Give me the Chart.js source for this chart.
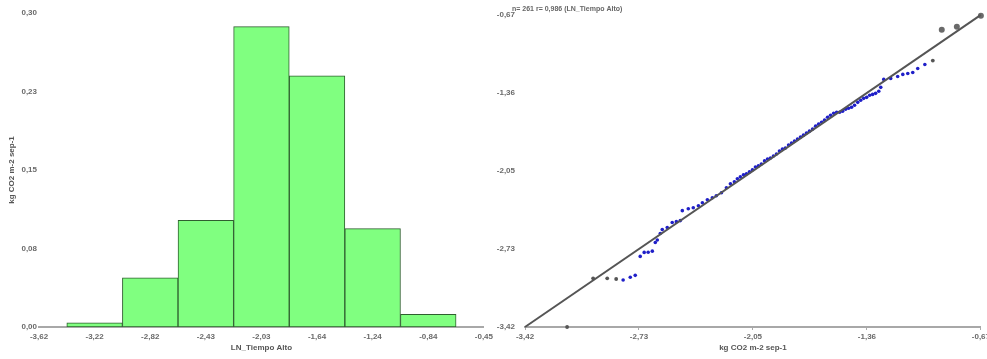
<!DOCTYPE html>
<html>
<head>
<meta charset="utf-8">
<script src="https://cdn.jsdelivr.net/npm/chart.js@4.4.1/dist/chart.umd.min.js"></script>
<style>
  html, body { margin: 0; padding: 0; background: #ffffff; }
  #wrap { position: relative; width: 987px; height: 359px; overflow: hidden; }
  #histo { position: absolute; left: 0; top: 0; }
  #qq { position: absolute; left: 490px; top: 0; }
</style>
</head>
<body>
<div id="wrap">
  <canvas id="histo" width="498" height="359"></canvas>
  <canvas id="qq" width="502" height="359"></canvas>
</div>
<script>
// ---------- Histogram data ----------
const binPositions = [1, 2, 3, 4, 5, 6, 7];
const binFrequencies = [0.004, 0.047, 0.102, 0.287, 0.240, 0.094, 0.012];
const histXTickLabels = ["-3,62", "-3,22", "-2,82", "-2,43", "-2,03", "-1,64", "-1,24", "-0,84", "-0,45"];
const histYTickLabels = ["0,00", "0,08", "0,15", "0,23", "0,30"];
const histXTitle = "LN_Tiempo Alto";
const histYTitle = "kg CO2 m-2 sep-1";

// ---------- QQ plot data ----------
const qqBlueX = [-2.828,-2.785,-2.755,-2.725,-2.701,-2.677,-2.652,-2.634,-2.622,-2.604,
  -2.592,-2.562,-2.532,-2.507,-2.483,-2.471,-2.435,-2.405,-2.374,-2.350,
  -2.320,-2.290,-2.266,-2.235,-2.205,-2.181,-2.157,-2.139,-2.121,-2.102,
  -2.084,-2.066,-2.048,-2.030,-2.012,-1.994,-1.975,-1.957,-1.939,-1.921,
  -1.903,-1.885,-1.867,-1.849,-1.830,-1.812,-1.794,-1.776,-1.758,-1.740,
  -1.722,-1.704,-1.685,-1.667,-1.649,-1.631,-1.613,-1.595,-1.577,-1.558,
  -1.540,-1.522,-1.504,-1.486,-1.468,-1.450,-1.432,-1.413,-1.395,-1.377,
  -1.359,-1.341,-1.323,-1.305,-1.286,-1.274,-1.256,-1.214,-1.172,-1.141,
  -1.111,-1.081,-1.051,-1.008];
const qqBlueY = [-3.006,-2.982,-2.965,-2.798,-2.763,-2.761,-2.752,-2.676,-2.654,-2.597,
  -2.562,-2.544,-2.500,-2.492,-2.483,-2.395,-2.378,-2.369,-2.352,-2.325,
  -2.299,-2.281,-2.264,-2.238,-2.194,-2.159,-2.141,-2.115,-2.098,-2.080,
  -2.071,-2.054,-2.036,-2.010,-2.001,-1.984,-1.957,-1.940,-1.931,-1.914,
  -1.896,-1.870,-1.852,-1.844,-1.817,-1.800,-1.782,-1.765,-1.747,-1.730,
  -1.712,-1.695,-1.677,-1.651,-1.633,-1.616,-1.598,-1.572,-1.555,-1.537,
  -1.528,-1.528,-1.520,-1.502,-1.493,-1.485,-1.467,-1.441,-1.423,-1.406,
  -1.397,-1.379,-1.371,-1.362,-1.344,-1.309,-1.239,-1.230,-1.213,-1.195,
  -1.187,-1.178,-1.143,-1.108];
const qqGrayX = [-3.166, -3.009, -2.924, -2.870, -0.960];
const qqGrayY = [-3.420, -2.991, -2.991, -2.997, -1.073];
const qqBigGrayX = [-0.906, -0.815, -0.670];
const qqBigGrayY = [-0.801, -0.775, -0.679];
const qqRefLineX = [-3.42, -0.67];
const qqRefLineY = [-3.42, -0.67];
const qqTickLabels = ["-3,42", "-2,73", "-2,05", "-1,36", "-0,67"];
const qqXTitle = "kg CO2 m-2 sep-1";
const qqTitle = "n= 261 r= 0,986 (LN_Tiempo Alto)";

const pairs = (xs, ys) => xs.map((x, i) => ({ x: x, y: ys[i] }));

const tickFont = { family: "'Liberation Sans', Arial, sans-serif", size: 8, weight: 'bold' };
const tickColor = '#6a6a6a';

// ---------- Histogram ----------
new Chart(document.getElementById('histo'), {
  type: 'bar',
  data: {
    datasets: [{
      data: pairs(binPositions, binFrequencies),
      backgroundColor: '#80ff80',
      borderColor: '#2f5f2f',
      borderWidth: 1,
      barPercentage: 1,
      categoryPercentage: 1,
      borderSkipped: false
    }]
  },
  options: {
    responsive: false,
    animation: false,
    layout: { padding: { left: 0, right: 6, top: 13, bottom: 0 } },
    plugins: { legend: { display: false }, tooltip: { enabled: false } },
    scales: {
      x: {
        type: 'linear',
        offset: false,
        min: 0, max: 8,
        grid: { display: false, drawTicks: false },
        border: { display: true, color: '#a8a8a8', width: 2 },
        ticks: {
          stepSize: 1,
          autoSkip: false,
          maxRotation: 0,
          padding: 5,
          color: tickColor,
          font: tickFont,
          callback: (v, i) => histXTickLabels[i]
        },
        title: {
          display: true, text: histXTitle, color: '#555',
          font: { family: "'Liberation Sans', Arial, sans-serif", size: 8, weight: 'bold' },
          padding: { top: 0, bottom: 6 }
        },
        afterFit: s => { s.height = 32; }
      },
      y: {
        min: 0, max: 0.30,
        grid: { display: false, drawTicks: false },
        border: { display: false },
        ticks: {
          stepSize: 0.075,
          autoSkip: false,
          padding: 2,
          color: tickColor,
          font: tickFont,
          callback: (v, i) => histYTickLabels[i]
        },
        title: {
          display: true, text: histYTitle, color: '#555',
          font: { family: "'Liberation Sans', Arial, sans-serif", size: 8, weight: 'bold' },
          padding: { top: 7, bottom: 0 }
        },
        afterFit: s => { s.width = 39; }
      }
    }
  }
});

// ---------- QQ plot ----------
const qqTitlePlugin = {
  id: 'qqTitle',
  afterDraw(chart) {
    const ctx = chart.ctx;
    ctx.save();
    ctx.font = "bold 7px 'Liberation Sans', Arial, sans-serif";
    ctx.fillStyle = '#666';
    ctx.textBaseline = 'middle';
    ctx.textAlign = 'left';
    ctx.fillText(qqTitle, chart.chartArea.left - 13, 9);
    ctx.restore();
  }
};

new Chart(document.getElementById('qq'), {
  type: 'scatter',
  data: {
    datasets: [
      {
        type: 'line',
        data: pairs(qqRefLineX, qqRefLineY),
        borderColor: '#555555',
        borderWidth: 2,
        pointRadius: 0,
        fill: false,
        order: 0
      },
      {
        data: pairs(qqBlueX, qqBlueY),
        backgroundColor: '#1f1fc8',
        borderColor: '#1f1fc8',
        pointRadius: 1.8,
        borderWidth: 0,
        order: 1
      },
      {
        data: pairs(qqGrayX, qqGrayY),
        backgroundColor: '#555555',
        borderColor: '#555555',
        pointRadius: 1.9,
        borderWidth: 0,
        order: 1
      },
      {
        data: pairs(qqBigGrayX, qqBigGrayY),
        backgroundColor: '#6a6a6a',
        borderColor: '#6a6a6a',
        pointRadius: 3,
        borderWidth: 0,
        order: 1
      }
    ]
  },
  options: {
    responsive: false,
    animation: false,
    clip: false,
    layout: { padding: { left: 0, right: 7, top: 13, bottom: 0 } },
    plugins: { legend: { display: false }, tooltip: { enabled: false } },
    scales: {
      x: {
        type: 'linear',
        min: -3.42, max: -0.67,
        grid: { display: true, drawOnChartArea: false, tickLength: 3, color: '#aaaaaa' },
        border: { display: true, color: '#a8a8a8', width: 2 },
        ticks: {
          stepSize: 0.6875,
          autoSkip: false,
          maxRotation: 0,
          padding: 2,
          color: tickColor,
          font: tickFont,
          callback: (v, i) => qqTickLabels[i]
        },
        title: {
          display: true, text: qqXTitle, color: '#555',
          font: { family: "'Liberation Sans', Arial, sans-serif", size: 8, weight: 'bold' },
          padding: { top: 0, bottom: 6 }
        },
        afterFit: s => { s.height = 32; }
      },
      y: {
        min: -3.42, max: -0.67,
        grid: { display: false, drawTicks: false },
        border: { display: false },
        ticks: {
          stepSize: 0.6875,
          autoSkip: false,
          padding: 10,
          color: tickColor,
          font: tickFont,
          callback: (v, i) => qqTickLabels[i]
        },
        afterFit: s => { s.width = 35; }
      }
    }
  },
  plugins: [qqTitlePlugin]
});
</script>
</body>
</html>
